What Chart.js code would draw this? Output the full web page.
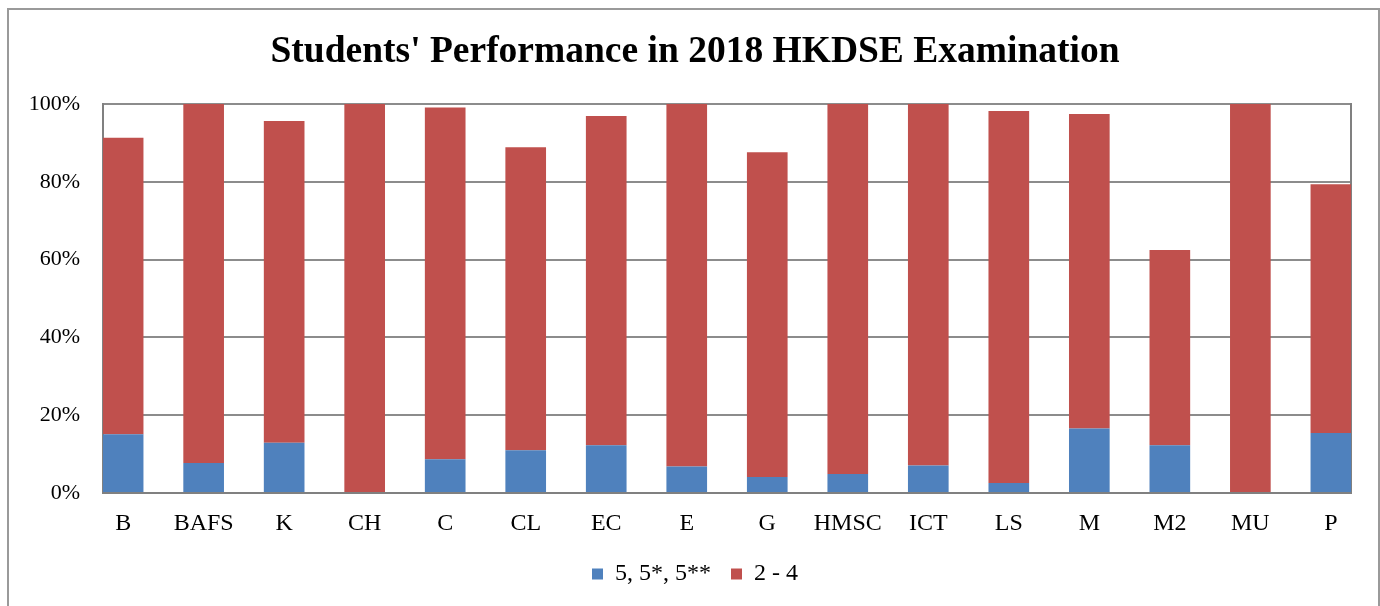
<!DOCTYPE html>
<html>
<head>
<meta charset="utf-8">
<script src="https://cdn.jsdelivr.net/npm/chart.js@4.4.1/dist/chart.umd.min.js"></script>
<style>
  html, body { margin: 0; padding: 0; background: #fff; overflow: hidden; }
  #wrap { position: relative; width: 1380px; height: 606px; background: #fff; }
  #frame { position: absolute; left: 7px; top: 8px; width: 1369px; height: 700px; border: 2px solid #9a9a9a; pointer-events: none; }
  canvas { position: absolute; left: 0; top: 0; }
</style>
</head>
<body>
<div id="wrap">
  <canvas id="chart" width="1380" height="606"></canvas>
  <div id="frame"></div>
</div>
<script>
const subjects = ['B', 'BAFS', 'K', 'CH', 'C', 'CL', 'EC', 'E', 'G', 'HMSC', 'ICT', 'LS', 'M', 'M2', 'MU', 'P'];
// level 5, 5*, 5** (%)
const topLevels = [15.1, 7.7, 12.9, 0, 8.7, 11.0, 12.3, 6.8, 4.1, 4.9, 7.1, 2.6, 16.6, 12.3, 0, 15.4];
// level 2 - 4 (%)
const midLevels = [76.2, 92.3, 82.7, 100, 90.4, 77.9, 84.6, 93.2, 83.5, 95.1, 92.9, 95.6, 80.8, 50.2, 100, 64.0];
const yTicks = [0, 20, 40, 60, 80, 100];

const serif = "'Liberation Serif', 'Times New Roman', serif";
const gridGrey = '#8c8c8c';

const toPoints = arr => arr.map((v, i) => ({ x: i, y: v }));

const ctx = document.getElementById('chart').getContext('2d');
const chart = new Chart(ctx, {
    type: 'bar',
    data: {
        datasets: [{
            label: '5, 5*, 5**',
            data: toPoints(topLevels),
            backgroundColor: '#4F81BD',
            borderWidth: 0
        }, {
            label: '2 - 4',
            data: toPoints(midLevels),
            backgroundColor: '#C0504D',
            borderWidth: 0
        }]
    },
    options: {
        responsive: false,
        animation: false,
        // negative right padding + wide right axis keeps the plot at 103..1351
        // while the title/legend centre sits where the original has it
        layout: { padding: { left: 0, right: -10, top: 0, bottom: 10 } },
        datasets: { bar: { categoryPercentage: 1, barPercentage: 0.505 } },
        plugins: {
            tooltip: { enabled: false },
            title: {
                display: true,
                text: "Students' Performance in 2018 HKDSE Examination",
                color: '#000',
                font: { family: serif, size: 37.5, weight: 'bold' },
                padding: { top: 29.5, bottom: 29.5 }
            },
            legend: {
                position: 'bottom',
                labels: {
                    color: '#000',
                    font: { family: serif, size: 24 },
                    boxWidth: 11,
                    boxHeight: 11,
                    padding: 20
                }
            }
        },
        scales: {
            x: {
                type: 'linear',
                stacked: true,
                offset: false,
                min: -0.25,
                max: 15.25,
                afterBuildTicks: s => { s.ticks = subjects.map((_, i) => ({ value: i })); },
                afterFit: s => { s.height = 49; },
                grid: { display: false, drawTicks: false },
                border: { display: true, color: '#808080', width: 2 },
                ticks: {
                    autoSkip: false,
                    maxRotation: 0,
                    padding: 16,
                    color: '#000',
                    font: { family: serif, size: 24 },
                    callback: v => subjects[v]
                }
            },
            y: {
                stacked: true,
                min: 0,
                max: 100,
                afterBuildTicks: s => { s.ticks = yTicks.map(v => ({ value: v })); },
                afterFit: s => { s.width = 103; },
                grid: { color: gridGrey, lineWidth: 2, drawTicks: false },
                border: { display: true, color: '#808080', width: 2 },
                ticks: {
                    padding: 23,
                    color: '#000',
                    font: { family: serif, size: 22 },
                    callback: v => v + '%'
                }
            },
            y2: {
                position: 'right',
                min: 0,
                max: 100,
                afterFit: s => { s.width = 39; },
                grid: { drawOnChartArea: false, drawTicks: false },
                border: { display: true, color: '#808080', width: 2 },
                ticks: { display: false }
            }
        }
    }
});
</script>
</body>
</html>
